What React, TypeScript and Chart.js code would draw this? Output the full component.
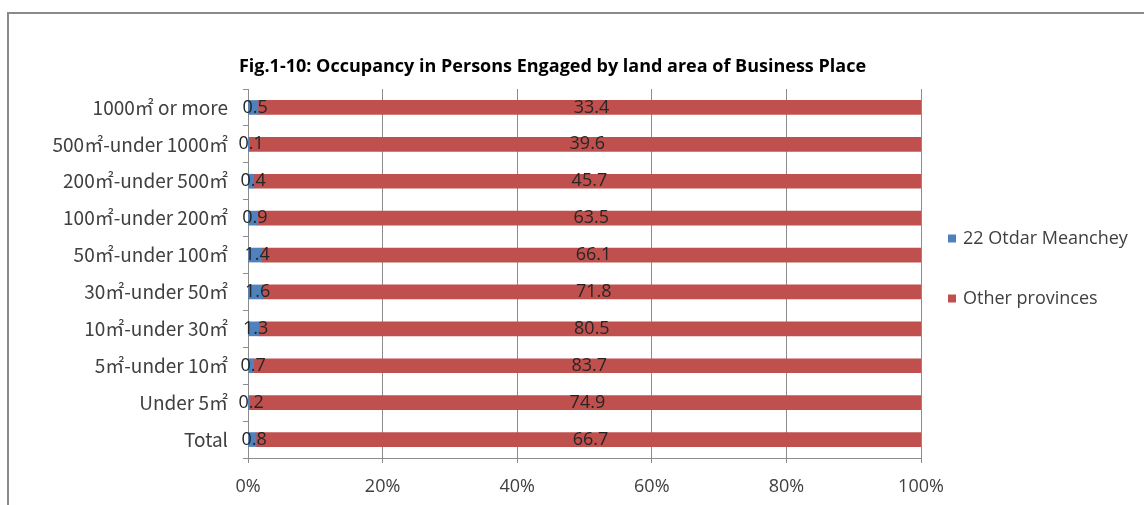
import React, { useEffect, useRef } from "react";
import { Chart, registerables } from "chart.js";

Chart.register(...registerables);

const chartTitle = "Fig.1-10: Occupancy in Persons Engaged by land area of Business Place";
const categories = [
  "Total",
  "Under 5㎡",
  "5㎡-under 10㎡",
  "10㎡-under 30㎡",
  "30㎡-under 50㎡",
  "50㎡-under 100㎡",
  "100㎡-under 200㎡",
  "200㎡-under 500㎡",
  "500㎡-under 1000㎡",
  "1000㎡ or more",
];
const seriesNames = ["22 Otdar Meanchey", "Other provinces"];
const otdarValues = [0.8, 0.2, 0.7, 1.3, 1.6, 1.4, 0.9, 0.4, 0.1, 0.5];
const otherValues = [66.7, 74.9, 83.7, 80.5, 71.8, 66.1, 63.5, 45.7, 39.6, 33.4];
const xTickValues = [0, 20, 40, 60, 80, 100];
const seriesColors = ["#4F81BD", "#C0504D"];

const FONT = '"Open Sans", "Noto Sans CJK JP", sans-serif';
const CAT_FONT = '"Noto Sans CJK JP", "Open Sans", sans-serif';
const GRID = "#8c8c8c";
const TEXT = "#404040";

const frameAndBackground = {
  id: "frameAndBackground",
  beforeDraw(chart: any) {
    const { ctx, width, height } = chart;
    ctx.save();
    ctx.fillStyle = "#ffffff";
    ctx.fillRect(0, 0, width, height);
    ctx.strokeStyle = "#8a8a8a";
    ctx.lineWidth = 2;
    ctx.beginPath();
    ctx.moveTo(width, 13);
    ctx.lineTo(8, 13);
    ctx.lineTo(8, height);
    ctx.stroke();
    ctx.restore();
  },
};

const titleBlock = {
  id: "titleBlock",
  afterDraw(chart: any) {
    const { ctx, chartArea } = chart;
    ctx.save();
    ctx.font = `bold 18px ${FONT}`;
    ctx.fillStyle = "#000000";
    ctx.textAlign = "center";
    ctx.textBaseline = "middle";
    ctx.fillText(chartTitle, (chartArea.right + 184) / 2, chartArea.top - 22);
    ctx.restore();
  },
};

const valueLabels = {
  id: "valueLabels",
  afterDatasetsDraw(chart: any) {
    const ctx = chart.ctx;
    ctx.save();
    ctx.font = `18px ${FONT}`;
    ctx.fillStyle = "#262626";
    ctx.textAlign = "center";
    ctx.textBaseline = "middle";
    chart.data.datasets.forEach((ds: any, di: number) => {
      const meta = chart.getDatasetMeta(di);
      meta.data.forEach((el: any, i: number) => {
        const p = el.getProps(["x", "y", "base"], true);
        ctx.fillText(ds.rawValues[i].toFixed(1), (p.x + p.base) / 2 + 2, p.y);
      });
    });
    ctx.restore();
  },
};

const sideLegend = {
  id: "sideLegend",
  afterDraw(chart: any) {
    const { ctx, chartArea } = chart;
    const cy = (chartArea.top + chartArea.bottom) / 2;
    const x = chartArea.right + 27;
    const ys = [cy - 35, cy + 25];
    ctx.save();
    ctx.font = `18px ${FONT}`;
    ctx.textAlign = "left";
    ctx.textBaseline = "middle";
    chart.data.datasets.forEach((ds: any, i: number) => {
      ctx.fillStyle = ds.backgroundColor;
      ctx.fillRect(x, ys[i] - 4, 8, 8);
      ctx.fillStyle = TEXT;
      ctx.fillText(ds.label, x + 15, ys[i]);
    });
    ctx.restore();
  },
};

export default function App() {
  const ref = useRef<HTMLCanvasElement | null>(null);

  useEffect(() => {
    if (!ref.current) return;
    const totals = otdarValues.map((v, i) => v + otherValues[i]);
    const chart = new Chart(ref.current, {
      type: "bar",
      data: {
        labels: categories,
        datasets: [
          {
            label: seriesNames[0],
            data: otdarValues.map((v, i) => (v / totals[i]) * 100),
            rawValues: otdarValues,
            backgroundColor: seriesColors[0],
            barThickness: 14,
          } as any,
          {
            label: seriesNames[1],
            data: otherValues.map((v, i) => (v / totals[i]) * 100),
            rawValues: otherValues,
            backgroundColor: seriesColors[1],
            barThickness: 14,
          } as any,
        ],
      },
      options: {
        indexAxis: "y",
        animation: false,
        responsive: false,
        layout: { padding: { left: 0, right: 223, top: 89, bottom: 0 } },
        plugins: {
          legend: { display: false },
          tooltip: { enabled: false },
          title: { display: false },
        },
        scales: {
          x: {
            stacked: true,
            min: 0,
            max: 100,
            afterBuildTicks: (s: any) => {
              s.ticks = xTickValues.map((v) => ({ value: v }));
            },
            afterFit: (s: any) => {
              s.height = 47;
            },
            ticks: {
              callback: (v: any) => `${v}%`,
              color: TEXT,
              font: { family: FONT, size: 18 },
              padding: 13,
              maxRotation: 0,
            },
            grid: { color: GRID, tickLength: 5 },
            border: { color: GRID },
          },
          y: {
            stacked: true,
            reverse: true,
            afterFit: (s: any) => {
              s.width = 248;
            },
            ticks: {
              color: TEXT,
              font: { family: CAT_FONT, size: 19 },
              padding: 15,
            },
            grid: { offset: true, drawOnChartArea: false, color: GRID, tickLength: 5 },
            border: { color: GRID },
          },
        },
      } as any,
      plugins: [frameAndBackground, valueLabels, sideLegend, titleBlock],
    });
    return () => chart.destroy();
  }, []);

  return (
    <div style={{ position: "absolute", left: 0, top: 0, width: 1144, height: 505 }}>
      <canvas ref={ref} width={1144} height={505} style={{ display: "block" }} />
    </div>
  );
}
